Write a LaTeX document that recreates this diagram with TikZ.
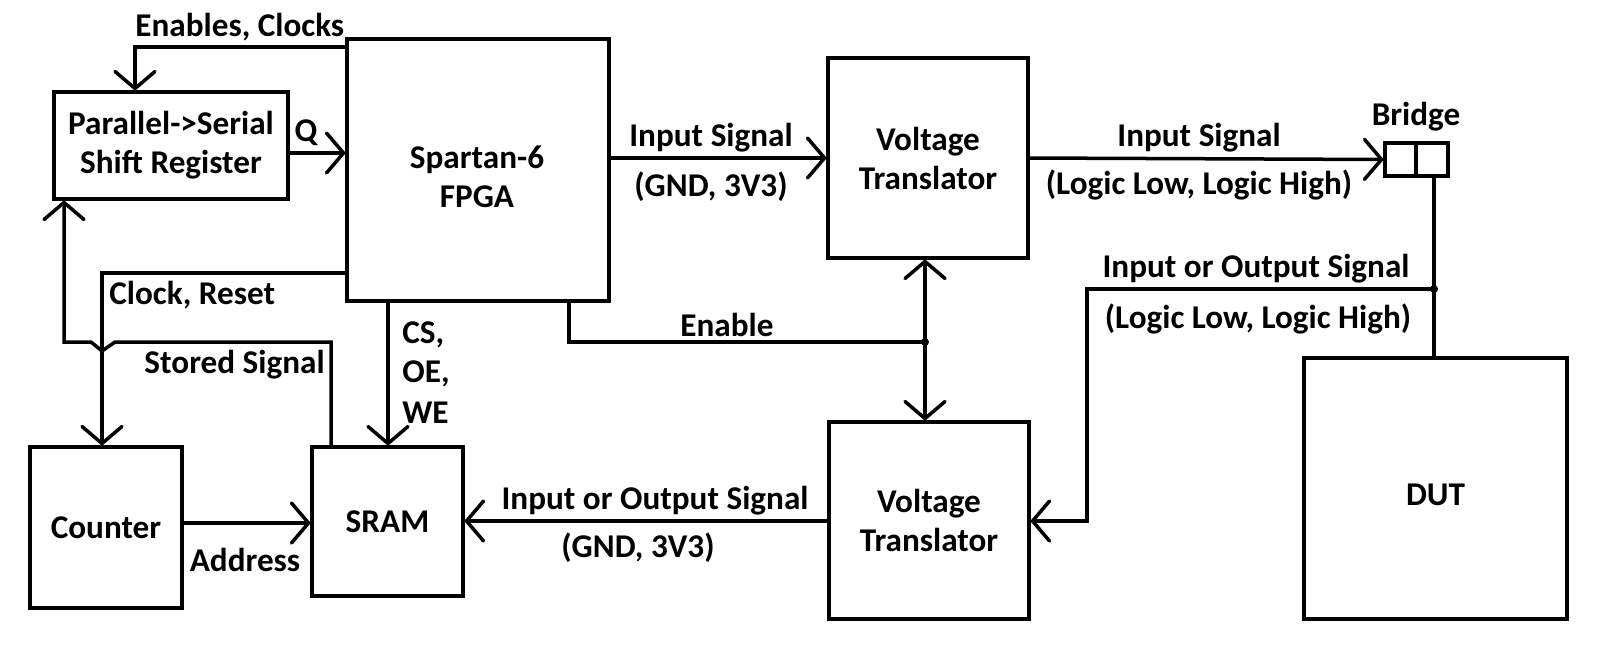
\documentclass[tikz,border=0pt]{standalone}
\usepackage{fontspec}
\setmainfont{Carlito}
\usetikzlibrary{arrows.meta}
\begin{document}
\begin{tikzpicture}[x=0.5pt,y=-0.5pt,
  txt/.style={font=\bfseries\fontsize{16.6}{19.5}\selectfont},
  box/.style={draw,line width=1.75pt,inner sep=0pt,align=center,txt},
  lbl/.style={inner sep=0pt,align=center,txt},
  wire/.style={line width=1.75pt},
  arr/.style={wire,-{Straight Barb[length=8.5pt,width=20pt,round]}},
  arrb/.style={wire,{Straight Barb[length=8.5pt,width=20pt,round]}-{Straight Barb[length=8.5pt,width=20pt,round]}},
  jdot/.style={circle,fill,inner sep=0pt,minimum size=4pt}]
\useasboundingbox[fill=white] (0,0) rectangle (1600,654);
% blocks
\node[box,minimum width=117pt,minimum height=53.5pt] (sr) at (171,145.5) {Parallel->Serial\\Shift Register};
\node[box,minimum width=131pt,minimum height=131pt] (fpga) at (478,170) {};
\node[lbl] (fpgat) at (477,177) {Spartan-6\\FPGA};
\node[box,minimum width=100pt,minimum height=100pt] (vt1) at (928,158) {Voltage\\Translator};
\node[box,minimum width=100pt,minimum height=98.5pt] (vt2) at (929,520.5) {Voltage\\Translator};
\node[box,minimum width=76pt,minimum height=80.5pt] (cnt) at (106,527.5) {Counter};
\node[box,minimum width=75.5pt,minimum height=74.5pt] (sram) at (387.5,521.5) {SRAM};
\node[box,minimum width=131.5pt,minimum height=130.5pt] (dut) at (1435.5,488.5) {};
\node[lbl] (dutt) at (1435.5,495) {DUT};
\node[box,minimum width=15.5pt,minimum height=16.5pt] (br1) at (1400.5,159.5) {};
\node[box,minimum width=16pt,minimum height=16.5pt] (br2) at (1432,159.5) {};
\node[lbl] (brl) at (1416,117) {Bridge};
% connectors
\draw[arr] (fpga.west |- 0,47) -| (sr.north -| 135,0);
\draw[arr] (sr.east |- 0,153) -- (fpga.west |- 0,153);
\draw[arr] (fpga.west |- 0,273) -| (cnt.north -| 102,0);
\draw[arr] (sram.north -| 331,0) -- (331,342) -- (115,342) -- (102,351) -- (91,342) -- (64,342) -- (sr.south -| 64,0);
\draw[arr] (fpga.south -| 388,0) -- (sram.north -| 388,0);
\coordinate (en) at (925,342);
\draw[wire] (fpga.south -| 569,0) |- (en);
\draw[arrb] (vt1.south -| en) -- (vt2.north -| en);
\node[jdot] at (en) {};
\draw[arr] (fpga.east |- vt1) -- (vt1.west);
\draw[arr] (vt1.east) -- (br1.west);
\coordinate (bj) at (1434,289);
\draw[wire] (br2.south -| bj) -- (dut.north -| bj);
\draw[arr] (bj) -| (1087,521) -- (vt2.east |- 0,521);
\node[jdot] at (bj) {};
\draw[arr] (vt2.west |- 0,521) -- (sram.east |- 0,521);
\draw[arr] (cnt.east |- 0,523) -- (sram.west |- 0,523);
% labels
\node[lbl,anchor=south west] (l1) at (135,41) {Enables, Clocks};
\node[lbl] (l2) at (306,133) {Q};
\node[lbl,anchor=north west] (l3) at (109,281) {Clock, Reset};
\node[lbl,anchor=north east] (l4) at (325,350) {Stored Signal};
\node[lbl,anchor=west] (l5a) at (402,335) {CS,};
\node[lbl,anchor=west] (l5b) at (402,374) {OE,};
\node[lbl,anchor=west] (l5c) at (402,413) {WE};
\node[lbl] (l6) at (727,325) {Enable};
\node[lbl] (l7a) at (711,138) {Input Signal};
\node[lbl] (l7b) at (711,187) {(GND, 3V3)};
\node[lbl] (l8a) at (1199,138) {Input Signal};
\node[lbl] (l8b) at (1199,185) {(Logic Low, Logic High)};
\node[lbl] (l9a) at (1256,269) {Input or Output Signal};
\node[lbl] (l9b) at (1258,319) {(Logic Low, Logic High)};
\node[lbl] (l10a) at (655,501) {Input or Output Signal};
\node[lbl] (l10b) at (638,548) {(GND, 3V3)};
\node[lbl] (l11) at (245,560) {Address};
\end{tikzpicture}
\end{document}
